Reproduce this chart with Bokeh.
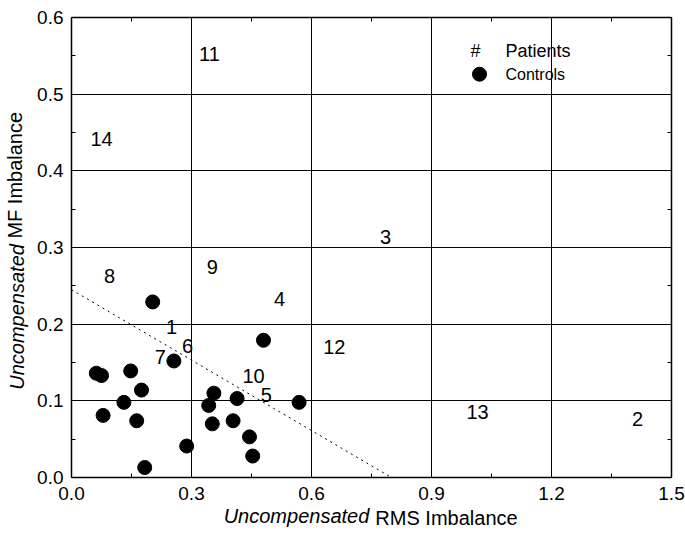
from bokeh.plotting import figure
from bokeh.models import LinearAxis, Label, Range1d, FixedTicker, Grid, PrintfTickFormatter
from bokeh.core.properties import value
from bokeh.embed import file_html
from bokeh.resources import INLINE

# Patients (numbered)
patient_ids = ["1", "2", "3", "4", "5", "6", "7", "8", "9", "10", "11", "12", "13", "14"]
patient_rms = [0.250, 1.415, 0.785, 0.520, 0.487, 0.290, 0.222, 0.095, 0.352, 0.455, 0.345, 0.657, 1.015, 0.075]
patient_mf = [0.196, 0.076, 0.314, 0.233, 0.108, 0.171, 0.157, 0.263, 0.274, 0.133, 0.552, 0.170, 0.085, 0.442]

# Controls (dots)
control_rms = [0.062, 0.075, 0.203, 0.148, 0.175, 0.131, 0.079, 0.163, 0.183, 0.256,
               0.288, 0.480, 0.356, 0.343, 0.414, 0.352, 0.404, 0.445, 0.453, 0.569]
control_mf = [0.136, 0.133, 0.229, 0.139, 0.114, 0.098, 0.081, 0.074, 0.013, 0.152,
              0.041, 0.179, 0.110, 0.094, 0.103, 0.070, 0.074, 0.053, 0.028, 0.098]

# Separation line
sep_x = [0.0, 0.80]
sep_y = [0.245, 0.0]

x_ticks = [0.0, 0.3, 0.6, 0.9, 1.2, 1.5]
y_ticks = [0.0, 0.1, 0.2, 0.3, 0.4, 0.5, 0.6]
x_minor = [0.15, 0.45, 0.75, 1.05, 1.35]
y_minor = [0.05, 0.15, 0.25, 0.35, 0.45, 0.55]

x_title_italic = "Uncompensated"
x_title_rest = "RMS Imbalance"
y_title_italic = "Uncompensated"
y_title_rest = "MF Imbalance"

FONT = "Liberation Sans"
TITLE_SIZE = "20px"
NB = "\u00a0"

p = figure(width=685, height=533, output_backend="svg", toolbar_location=None,
           x_range=Range1d(0, 1.5), y_range=Range1d(0, 0.6),
           x_axis_location=None, y_axis_location=None,
           min_border_left=71, min_border_right=14, min_border_top=17, min_border_bottom=56)
p.background_fill_color = "white"
p.border_fill_color = "white"
p.outline_line_color = "black"
p.outline_line_width = 1
p.xgrid.visible = False
p.ygrid.visible = False


def make_axis(ticks, minor, labels, standoff):
    ax = LinearAxis(ticker=FixedTicker(ticks=ticks, minor_ticks=minor))
    ax.axis_line_color = "black"
    ax.axis_line_width = 1.5
    ax.major_tick_in = 7
    ax.major_tick_out = 0
    ax.minor_tick_in = 4
    ax.minor_tick_out = 0
    ax.major_tick_line_color = "black"
    ax.minor_tick_line_color = "black"
    ax.major_label_text_font = FONT
    ax.major_label_text_font_size = "19px"
    ax.major_label_text_color = "black"
    ax.major_label_standoff = standoff
    ax.formatter = PrintfTickFormatter(format="%.1f")
    if not labels:
        ax.major_label_overrides = {t: "" for t in ticks}
    return ax


def title_axis(text, style, standoff):
    ax = LinearAxis(ticker=FixedTicker(ticks=[]), axis_line_color=None)
    ax.axis_label = text
    ax.axis_label_text_font = FONT
    ax.axis_label_text_font_size = TITLE_SIZE
    ax.axis_label_text_font_style = style
    ax.axis_label_text_color = "black"
    ax.axis_label_standoff = standoff
    return ax


xb = make_axis(x_ticks, x_minor, True, 9)
yl = make_axis(y_ticks, y_minor, True, 8)
xt = make_axis(x_ticks, x_minor, False, 0)
yr = make_axis(y_ticks, y_minor, False, 0)
p.add_layout(xb, "below")
p.add_layout(yl, "left")
p.add_layout(xt, "above")
p.add_layout(yr, "right")

# Mixed-style axis titles: italic part and plain part as two overlapping
# label-only axes, shifted sideways with non-breaking-space padding
p.add_layout(title_axis(x_title_italic + NB * 27, "italic", 2), "below")
p.add_layout(title_axis(NB * 27 + x_title_rest, "normal", -23), "below")
p.add_layout(title_axis(y_title_italic + NB * 25, "italic", 7), "left")
p.add_layout(title_axis(NB * 26 + y_title_rest, "normal", -23), "left")

# Grid lines
gx = Grid(dimension=0, ticker=FixedTicker(ticks=[0.3, 0.6, 0.9, 1.2]),
          grid_line_color="black", grid_line_width=1)
gy = Grid(dimension=1, ticker=FixedTicker(ticks=[0.1, 0.2, 0.3, 0.4, 0.5]),
          grid_line_color="black", grid_line_width=1)
p.add_layout(gx)
p.add_layout(gy)

# Separation line
p.line(sep_x, sep_y, line_color="black", line_width=1, line_dash="2 4")

# Controls
p.scatter(control_rms, control_mf, size=14, marker="circle",
          fill_color="black", line_color="black")

# Patients
p.text(patient_rms, patient_mf, text=patient_ids, text_font=value(FONT),
       text_font_size="20px", text_align="center", text_baseline="middle",
       text_color="black")

# Legend (manual)
p.add_layout(Label(x=1.01, y=0.556, text="#", text_font=FONT, text_font_size="18px",
                   text_align="center", text_baseline="middle", text_color="black"))
p.scatter([1.02], [0.526], size=14, marker="circle", fill_color="black", line_color="black")
p.add_layout(Label(x=1.085, y=0.556, text="Patients", text_font=FONT, text_font_size="18px",
                   text_align="left", text_baseline="middle", text_color="black"))
p.add_layout(Label(x=1.085, y=0.526, text="Controls", text_font=FONT, text_font_size="16px",
                   text_align="left", text_baseline="middle", text_color="black"))

open("out.html", "w").write(file_html(p, INLINE))
